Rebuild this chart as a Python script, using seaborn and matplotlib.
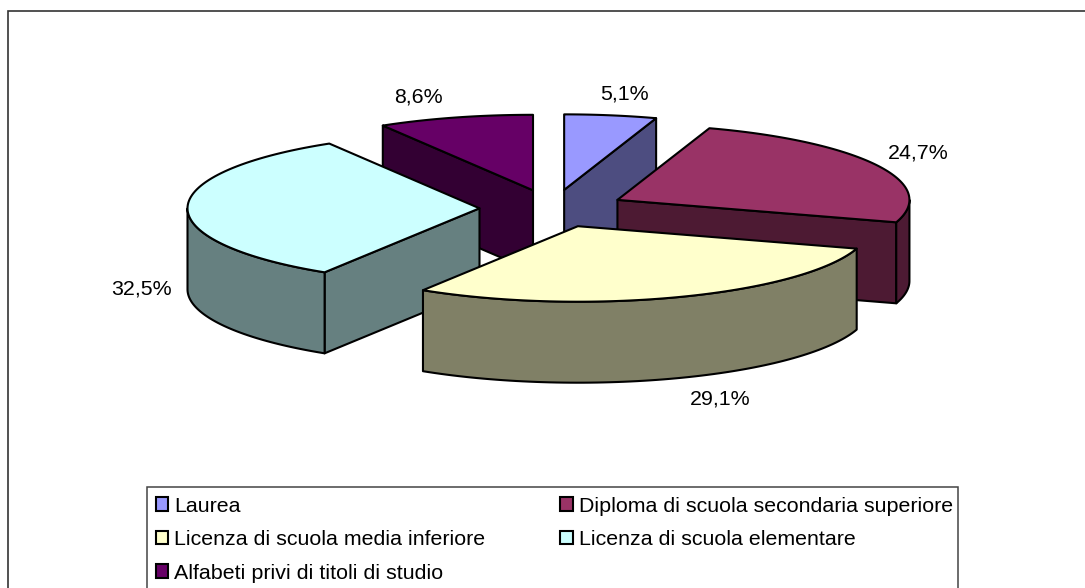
import numpy as np
import matplotlib
matplotlib.use("Agg")
import matplotlib.pyplot as plt
from matplotlib.patches import Polygon, Patch, Rectangle
import seaborn as sns

categories = ["Laurea", "Diploma di scuola secondaria superiore",
              "Licenza di scuola media inferiore", "Licenza di scuola elementare",
              "Alfabeti privi di titoli di studio"]
values = [5.1, 24.7, 29.1, 32.5, 8.6]
colors = ["#9999FF", "#993366", "#FFFFCC", "#CCFFFF", "#660066"]
label_positions = [(624, 94), (918, 153), (720, 399), (141, 289), (418, 97)]

CX, CY, A, B, DEPTH, EXPLODE = 552.5, 208.5, 292, 75.5, 81, 0.25
LW = 1.5

sns.set_theme(style="white")
plt.rcParams["font.family"] = ["Liberation Sans", "DejaVu Sans"]
palette = sns.color_palette(colors)
FS = 15.4

fig = plt.figure(figsize=(10.85, 5.88), dpi=100)
ax = fig.add_axes([0, 0, 1, 1])
ax.set_xlim(0, 1085)
ax.set_ylim(588, 0)
ax.axis("off")

ax.plot([7.5, 7.5, 1085], [588, 11, 11], color="#333333", lw=1.2, solid_joinstyle="miter")


def point(apex, theta, dz=0.0):
    t = np.radians(theta)
    return apex[0] + A * np.sin(t), apex[1] - B * np.cos(t) + dz


def arc(apex, t0, t1, dz=0.0):
    th = np.linspace(t0, t1, 80)
    x, y = point(apex, th, dz)
    return np.column_stack([x, y])


def add(poly, color):
    ax.add_patch(Polygon(poly, closed=True, facecolor=color, edgecolor="black",
                         lw=LW, joinstyle="round"))


bounds = np.concatenate([[0], np.cumsum(values)]) / np.sum(values) * 360
wedges = []
for i in range(len(values)):
    t0, t1 = bounds[i], bounds[i + 1]
    mid = np.radians((t0 + t1) / 2)
    apex = (CX + EXPLODE * A * np.sin(mid), CY - EXPLODE * B * np.cos(mid))
    wedges.append((apex[1], i, t0, t1, apex))

for _, i, t0, t1, apex in sorted(wedges, key=lambda w: w[0]):
    col = palette[i]
    dark = tuple(c * 0.5 for c in col)
    # radial cut faces
    for th, sign in ((t0, -1), (t1, 1)):
        if np.sin(np.radians(th)) * sign > 1e-6:
            p = point(apex, th)
            q = point(apex, th, DEPTH)
            add([apex, p, q, (apex[0], apex[1] + DEPTH)], dark)
    # outer curved wall
    lo, hi = max(t0, 90), min(t1, 270)
    if hi > lo:
        add(np.vstack([arc(apex, lo, hi), arc(apex, hi, lo, DEPTH)]), dark)
    # top
    add(np.vstack([[apex], arc(apex, t0, t1)]), col)

for v, (x, y) in zip(values, label_positions):
    ax.text(x, y, f"{v:.1f}%".replace(".", ","), ha="center", va="center",
            fontsize=FS, color="black")

ax.add_patch(Rectangle((147, 487), 811, 120, facecolor="white", edgecolor="#444444", lw=1.1))

handles = [Patch(facecolor=c, edgecolor="black", lw=LW, label=l)
           for c, l in zip(palette, categories)]
order = [0, 2, 4, 1, 3]
leg = ax.legend([handles[k] for k in order], [categories[k] for k in order],
                ncol=2, loc="upper left", bbox_to_anchor=(147, 488),
                bbox_transform=ax.transData, borderaxespad=0, fontsize=FS,
                frameon=False, borderpad=0.4, handlelength=0.6, handleheight=0.6,
                handletextpad=0.28, labelspacing=0.68, columnspacing=3.5,
                labelcolor="black")

fig.savefig("out.png", dpi=100)
